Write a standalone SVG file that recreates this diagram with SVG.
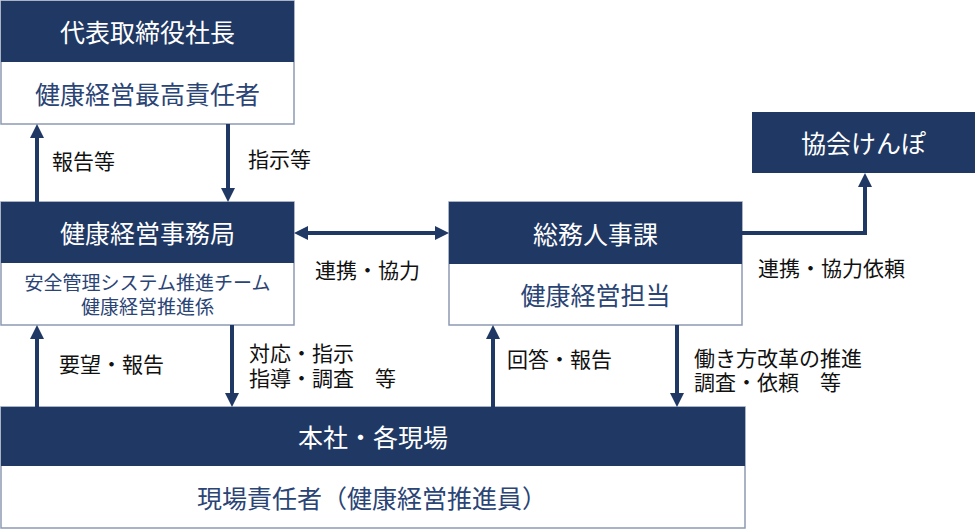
<svg xmlns="http://www.w3.org/2000/svg" width="980" height="530" viewBox="0 0 980 530">
<defs>
<style>
.dark{fill:#203864;}
.box{fill:#ffffff;stroke:#8e9ab3;stroke-width:1.5;}
.ht{font-family:"Noto Sans CJK JP","Noto Sans",sans-serif;font-size:25px;fill:#ffffff;text-anchor:middle;dominant-baseline:central;}
.st{font-family:"Noto Sans CJK JP","Noto Sans",sans-serif;font-size:25px;fill:#2a4475;text-anchor:middle;dominant-baseline:central;}
.sm{font-family:"Noto Sans CJK JP","Noto Sans",sans-serif;font-size:19px;fill:#2a4475;text-anchor:middle;dominant-baseline:central;}
.lb{font-family:"Noto Sans CJK JP","Noto Sans",sans-serif;font-size:21px;fill:#111111;dominant-baseline:central;}
.ar{stroke:#203864;stroke-width:4;fill:none;}
</style>
<marker id="ah" viewBox="0 0 14 14" refX="6" refY="7" markerWidth="14" markerHeight="14" markerUnits="userSpaceOnUse" orient="auto-start-reverse">
<path d="M0,0 L14,7 L0,14 z" fill="#203864"/>
</marker>
</defs>
<rect width="980" height="530" fill="#ffffff"/>

<g id="ceo">
<rect class="box" x="1" y="1" width="293" height="123"/>
<rect class="dark" x="1" y="1" width="293" height="61"/>
<text class="ht" x="147.5" y="31">代表取締役社長</text>
<text class="st" x="147.5" y="93">健康経営最高責任者</text>
</g>

<g id="office">
<rect class="box" x="1" y="202" width="293" height="123"/>
<rect class="dark" x="1" y="202" width="293" height="61"/>
<text class="ht" x="147.5" y="232">健康経営事務局</text>
<text class="sm"><tspan x="147.5" y="281">安全管理システム推進チーム</tspan><tspan x="147.5" y="305">健康経営推進係</tspan></text>
</g>

<g id="hr">
<rect class="box" x="449" y="202" width="293" height="123"/>
<rect class="dark" x="449" y="202" width="293" height="62"/>
<text class="ht" x="595.5" y="233">総務人事課</text>
<text class="st" x="595.5" y="294">健康経営担当</text>
</g>

<g id="kenpo">
<rect class="dark" x="752" y="112" width="223" height="61"/>
<text class="ht" x="863.5" y="142">協会けんぽ</text>
</g>

<g id="sites">
<rect class="box" x="1" y="407" width="744" height="121"/>
<rect class="dark" x="1" y="407" width="744" height="59"/>
<text class="ht" x="373" y="436">本社・各現場</text>
<text class="st" x="372" y="497">現場責任者（健康経営推進員）</text>
</g>

<g id="connectors">
<line class="ar" x1="37" y1="202" x2="37" y2="132" marker-end="url(#ah)"/>
<line class="ar" x1="228" y1="124" x2="228" y2="194" marker-end="url(#ah)"/>
<line class="ar" x1="302" y1="233" x2="441" y2="233" marker-start="url(#ah)" marker-end="url(#ah)"/>
<line class="ar" x1="37" y1="407" x2="37" y2="333" marker-end="url(#ah)"/>
<line class="ar" x1="232" y1="325" x2="232" y2="399" marker-end="url(#ah)"/>
<line class="ar" x1="493" y1="407" x2="493" y2="333" marker-end="url(#ah)"/>
<line class="ar" x1="677" y1="325" x2="677" y2="399" marker-end="url(#ah)"/>
<polyline class="ar" points="742,233 865,233 865,181" marker-end="url(#ah)"/>
<text class="lb" x="52" y="160">報告等</text>
<text class="lb" x="248" y="158">指示等</text>
<text class="lb" x="315" y="269">連携・協力</text>
<text class="lb" x="59" y="363">要望・報告</text>
<text class="lb"><tspan x="249" y="352">対応・指示</tspan><tspan x="249" y="377">指導・調査　等</tspan></text>
<text class="lb" x="507" y="358">回答・報告</text>
<text class="lb"><tspan x="694" y="357">働き方改革の推進</tspan><tspan x="694" y="381">調査・依頼　等</tspan></text>
<text class="lb" x="758" y="267">連携・協力依頼</text>
</g>
</svg>
